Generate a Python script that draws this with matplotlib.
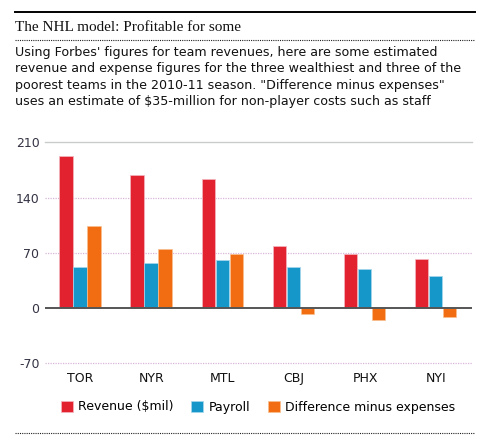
import numpy as np
import matplotlib
matplotlib.use('agg')
import matplotlib.pyplot as plt
from matplotlib.lines import Line2D

teams = ['TOR', 'NYR', 'MTL', 'CBJ', 'PHX', 'NYI']
revenue = [193, 169, 164, 79, 68, 62]
payroll = [52, 57, 61, 52, 50, 40]
difference = [104, 75, 69, -7, -15, -11]
series_names = ['Revenue ($mil)', 'Payroll', 'Difference minus expenses']
yticks = [-70, 0, 70, 140, 210]

title = 'The NHL model: Profitable for some'
subtitle = ('Using Forbes\' figures for team revenues, here are some estimated\n'
            'revenue and expense figures for the three wealthiest and three of the\n'
            'poorest teams in the 2010-11 season. "Difference minus expenses"\n'
            'uses an estimate of $35-million for non-player costs such as staff')

colors = ['#e2222e', '#1697c9', '#f26d12']
W, H = 493, 442

def fx(px):
    return px / W
def fy(py):
    return 1 - py / H

fig = plt.figure(figsize=(W / 100, H / 100), dpi=100)
fig.patch.set_facecolor('white')

# header rules and text
fig.add_artist(Line2D([fx(15), fx(475)], [fy(11.5), fy(11.5)], color='black', lw=1.4))
fig.text(fx(15), fy(31), title, family='Liberation Serif', fontsize=11.0, color='#111111', va='baseline')
fig.add_artist(Line2D([fx(15), fx(475)], [fy(39.5), fy(39.5)], color='#222222', lw=0.8, ls=(0, (1, 1))))
fig.text(fx(15), fy(46), subtitle, family='DejaVu Sans', fontsize=9.1, color='#111111',
         va='top', linespacing=1.33)
fig.add_artist(Line2D([fx(15), fx(475)], [fy(432.5), fy(432.5)], color='#222222', lw=0.8, ls=(0, (1, 1))))

ax = fig.add_axes([fx(45), fy(363.3), fx(472) - fx(45), fy(142.3) - fy(363.3)])
x = np.arange(len(teams))
w = 0.197
handles = []
for i, (vals, c) in enumerate(zip([revenue, payroll, difference], colors)):
    b = ax.bar(x + (i - 1) * w - 0.01, vals, width=w - 0.01, color=c,
               edgecolor='#f3b7c0' if i == 0 else '#a9d8ec' if i == 1 else '#f8c08e',
               linewidth=0.5, zorder=3, label=series_names[i])
    handles.append(b)

ax.set_xlim(-0.5, len(teams) - 0.5)
ax.set_ylim(-70, 210)
ax.set_yticks(yticks)
ax.set_yticklabels([str(t) for t in yticks], fontsize=9, color='#333344')
ax.set_xticks(x)
ax.set_xticklabels(teams, fontsize=9, color='#111111')
ax.tick_params(axis='both', length=0)
ax.tick_params(axis='y', pad=4)
ax.tick_params(axis='x', pad=6)
for s in ax.spines.values():
    s.set_visible(False)

for t in yticks:
    if t == 0:
        ax.axhline(t, color='#555555', lw=1.4, zorder=4)
    elif t == 210:
        ax.axhline(t, color='#c8ccc8', lw=1.0, zorder=1, clip_on=False)
    else:
        ax.axhline(t, color='#d9b6d9', lw=0.9, ls=(0, (1, 1)), zorder=1, clip_on=False)

fig.legend(handles=handles, loc='center', bbox_to_anchor=(fx(258), fy(407)), ncol=3,
           frameon=False, fontsize=9, handlelength=0.95, handleheight=0.95,
           handletextpad=0.45, columnspacing=1.4, borderaxespad=0, borderpad=0)

fig.savefig('out.png', dpi=100, facecolor='white')
